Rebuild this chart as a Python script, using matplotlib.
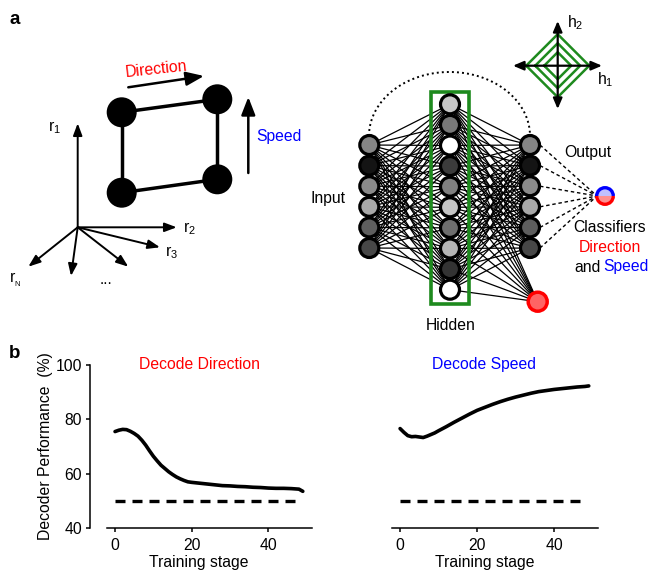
import numpy as np
import matplotlib
matplotlib.use('Agg')
import matplotlib.pyplot as plt
from matplotlib.patches import Circle, Rectangle, Wedge, Arc
from matplotlib.collections import LineCollection

plt.rcParams['font.family'] = ['Liberation Sans', 'DejaVu Sans']
plt.rcParams['mathtext.fontset'] = 'custom'
plt.rcParams['mathtext.rm'] = 'Liberation Sans'
FS = 11.3

# ---------------- data ----------------
direction_stage = [0, 1, 2, 3, 4, 5, 6, 7, 8, 9, 10, 11, 12, 13, 14, 15, 16, 17, 18, 19,
                   20, 22, 24, 26, 28, 30, 32, 34, 36, 38, 40, 42, 44, 46, 48, 49]
direction_perf = [75.5, 76.0, 76.3, 76.2, 75.6, 74.8, 73.8, 72.3, 70.5, 68.4, 66.4, 64.7,
                  63.1, 61.9, 60.7, 59.7, 58.8, 58.1, 57.5, 57.0, 56.8, 56.5, 56.2, 55.9,
                  55.6, 55.5, 55.3, 55.2, 55.0, 54.9, 54.7, 54.6, 54.6, 54.5, 54.3, 53.5]
speed_stage = [0, 1, 2, 3, 4, 5, 6, 7, 8, 9, 10, 12, 14, 16, 18, 20, 22, 24, 26, 28, 30,
               32, 34, 36, 38, 40, 42, 44, 46, 48, 49]
speed_perf = [76.6, 75.2, 74.0, 73.6, 73.7, 73.5, 73.3, 73.8, 74.4, 75.0, 75.8, 77.3, 78.9,
              80.4, 81.9, 83.3, 84.4, 85.5, 86.5, 87.4, 88.2, 88.9, 89.6, 90.2, 90.6, 91.0,
              91.3, 91.6, 91.9, 92.1, 92.3]
chance_stage = [0, 48]
chance_perf = [50, 50]
x_ticks = [0, 20, 40]
y_ticks = [40, 60, 80, 100]

input_gray = [0.52, 0.08, 0.54, 0.66, 0.37, 0.28]
hidden_gray = [0.78, 0.47, 1.0, 0.23, 0.5, 0.77, 0.43, 0.71, 0.2, 1.0]
output_gray = [0.52, 0.08, 0.54, 0.66, 0.37, 0.28]

GREEN = '#1e8a1e'

fig = plt.figure(figsize=(6.5, 5.73), dpi=100)

# ---------------- diagram layer (pixel coordinates) ----------------
d = fig.add_axes([0, 0, 1, 1])
d.set_xlim(0, 650)
d.set_ylim(573, 0)
d.axis('off')

d.text(15, 19, 'a', fontsize=13.5, fontweight='bold', ha='center', va='center')
d.text(15, 354, 'b', fontsize=13.5, fontweight='bold', ha='center', va='center')

# --- state space square ---
sq = [(121.7, 112.3), (217.3, 99.3), (217.3, 179.3), (121.7, 192.7)]
for i in range(4):
    a, b = sq[i], sq[(i + 1) % 4]
    d.plot([a[0], b[0]], [a[1], b[1]], color='k', lw=2.5, zorder=2, solid_capstyle='butt')
for p in sq:
    d.add_patch(Circle(p, 15, fc='k', ec='none', zorder=3))

def arrow(p0, p1, lw=1.5, hl=0.7, hw=0.3, ms=10, style='-|>'):
    d.annotate('', xy=p1, xytext=p0,
               arrowprops=dict(arrowstyle=f'{style},head_length={hl},head_width={hw}',
                               lw=lw, color='k', shrinkA=0, shrinkB=0,
                               mutation_scale=ms))

arrow((128.3, 87.3), (204, 76), lw=1.8, hl=0.9, hw=0.35, ms=12)
d.text(156.5, 69, 'Direction', color='red', fontsize=FS, ha='center', va='center', rotation=6)
arrow((248.3, 173), (248.3, 97), lw=1.8, hl=0.9, hw=0.35, ms=12)
d.text(256.5, 137, 'Speed', color='blue', fontsize=FS, ha='left', va='center')

# --- coordinate axes ---
o = (77.7, 227.3)
for end in [(77.7, 123.3), (176.7, 227.3), (160, 247.3), (28.3, 266.7), (71, 276), (128.3, 266.7)]:
    arrow(o, end, lw=1.4, hl=0.8, hw=0.3, ms=9)
d.text(55, 128, r'$\mathregular{r_1}$', fontsize=FS, ha='center', va='center')
d.text(189, 229, r'$\mathregular{r_2}$', fontsize=FS, ha='center', va='center')
d.text(172, 253, r'$\mathregular{r_3}$', fontsize=FS, ha='center', va='center')
d.text(15, 280, r'$\mathregular{r_{_N}}$', fontsize=FS, ha='center', va='center')
d.text(106, 279, '...', fontsize=FS, ha='center', va='center')

# --- network ---
x_in, x_hid, x_out = 369.3, 450, 530
y_in = [145 + 20.6 * i for i in range(len(input_gray))]
y_hid = [104.3 + 20.6 * i for i in range(len(hidden_gray))]
y_out = [145 + 20.6 * i for i in range(len(output_gray))]
red_node = (537.7, 301.7)
clf_node = (605, 196)

segs = []
for yi in y_in:
    for yh in y_hid:
        segs.append([(x_in, yi), (x_hid, yh)])
for yh in y_hid:
    for yo in y_out:
        segs.append([(x_hid, yh), (x_out, yo)])
    segs.append([(x_hid, yh), red_node])
d.add_collection(LineCollection(segs, colors='k', linewidths=0.9, zorder=1))

# dotted arc
t = np.linspace(0, np.pi, 120)
d.plot(449.5 - 80.5 * np.cos(t), 136 - 64 * np.sin(t), color='k', lw=1.4,
       linestyle=(0, (1, 1.6)), zorder=1)

# dashed lines to classifier
for yo in y_out:
    d.plot([x_out + 10, clf_node[0] - 8], [yo, clf_node[1]], color='k', lw=1.0,
           linestyle=(0, (2.5, 2)), zorder=1)

d.add_patch(Rectangle((431, 91.7), 38, 212.3, fill=False, ec=GREEN, lw=2.6, zorder=2))

for yi, g in zip(y_in, input_gray):
    d.add_patch(Circle((x_in, yi), 9.5, fc=str(g), ec='k', lw=2.3, zorder=3))
for yh, g in zip(y_hid, hidden_gray):
    d.add_patch(Circle((x_hid, yh), 9.5, fc=str(g), ec='k', lw=2.3, zorder=3))
for yo, g in zip(y_out, output_gray):
    d.add_patch(Circle((x_out, yo), 9.5, fc=str(g), ec='k', lw=2.3, zorder=3))
d.add_patch(Circle(red_node, 9.5, fc='#ff6464', ec='red', lw=2.5, zorder=3))

# classifier node (top blue, bottom red)
d.add_patch(Wedge(clf_node, 8.3, 180, 360, fc='#c0c0ff', ec='none', zorder=3))
d.add_patch(Wedge(clf_node, 8.3, 0, 180, fc='#ff9090', ec='none', zorder=3))
d.add_patch(Arc(clf_node, 16.6, 16.6, theta1=180, theta2=360, color='blue', lw=2.4, zorder=4))
d.add_patch(Arc(clf_node, 16.6, 16.6, theta1=0, theta2=180, color='red', lw=2.4, zorder=4))

d.text(327.5, 198, 'Input', fontsize=FS, ha='center', va='center')
d.text(451, 325, 'Hidden', fontsize=FS, ha='center', va='center')
d.text(587.5, 153, 'Output', fontsize=FS, ha='center', va='center')
d.text(610, 227, 'Classifiers', fontsize=FS, ha='center', va='center')
d.text(610, 247, 'Direction', fontsize=FS, ha='center', va='center', color='red')
d.text(600.5, 267, 'and', fontsize=FS, ha='right', va='center')
d.text(603, 267, 'Speed', fontsize=FS, ha='left', va='center', color='blue')

# --- hidden state diamond ---
c = (557.7, 65.7)
for h in [31.5, 22.5, 13.5]:
    d.plot([c[0] - h, c[0], c[0] + h, c[0], c[0] - h],
           [c[1], c[1] - h, c[1], c[1] + h, c[1]], color=GREEN, lw=1.8, zorder=1)
arrow((513, 65.7), (602, 65.7), lw=1.6, hl=0.7, hw=0.3, ms=9, style='<|-|>')
arrow((557.7, 109), (557.7, 21), lw=1.6, hl=0.7, hw=0.3, ms=9, style='<|-|>')
d.text(575, 23, r'$\mathregular{h_2}$', fontsize=FS, ha='center', va='center')
d.text(605, 80, r'$\mathregular{h_1}$', fontsize=FS, ha='center', va='center')

# ---------------- panel b ----------------
W, H = 650.0, 573.0
bottom = (H - 528) / H
height = 163 / H
ax1 = fig.add_axes([107 / W, bottom, 205 / W, height])
ax2 = fig.add_axes([392 / W, bottom, 206 / W, height])

for ax, xs, ys, title, col in [(ax1, direction_stage, direction_perf, 'Decode Direction', 'red'),
                               (ax2, speed_stage, speed_perf, 'Decode Speed', 'blue')]:
    ax.set_facecolor('none')
    ax.plot(xs, ys, color='k', lw=2.6, solid_capstyle='round')
    ax.plot(chance_stage, chance_perf, color='k', lw=2.4, linestyle=(0, (3.0, 2.1)))
    ax.set_xlim(-2.1, 51.4)
    ax.set_ylim(40, 100)
    ax.set_xticks(x_ticks)
    ax.set_yticks(y_ticks)
    ax.spines['top'].set_visible(False)
    ax.spines['right'].set_visible(False)
    ax.spines['bottom'].set_linewidth(1.1)
    ax.spines['left'].set_linewidth(1.1)
    ax.tick_params(labelsize=FS, length=3, width=1.1, direction='out')
    ax.tick_params(axis='x', pad=4.5)
    ax.tick_params(axis='y', pad=3)
    ax.set_xlabel('Training stage', fontsize=FS)
    ax.xaxis.set_label_coords(0.449, -0.166)
    ax.xaxis.label.set_va('top')
    ax.text(0.449, 1.006, title, color=col, fontsize=FS, ha='center', va='center',
            transform=ax.transAxes)

ax1.spines['left'].set_position(('outward', 12))
ax1.set_ylabel('Decoder Performance  (%)', fontsize=FS)
ax1.yaxis.set_label_coords(-0.261, 0.5)
ax2.spines['left'].set_visible(False)
ax2.tick_params(axis='y', left=False, labelleft=False)

fig.savefig('out.png', dpi=100)
